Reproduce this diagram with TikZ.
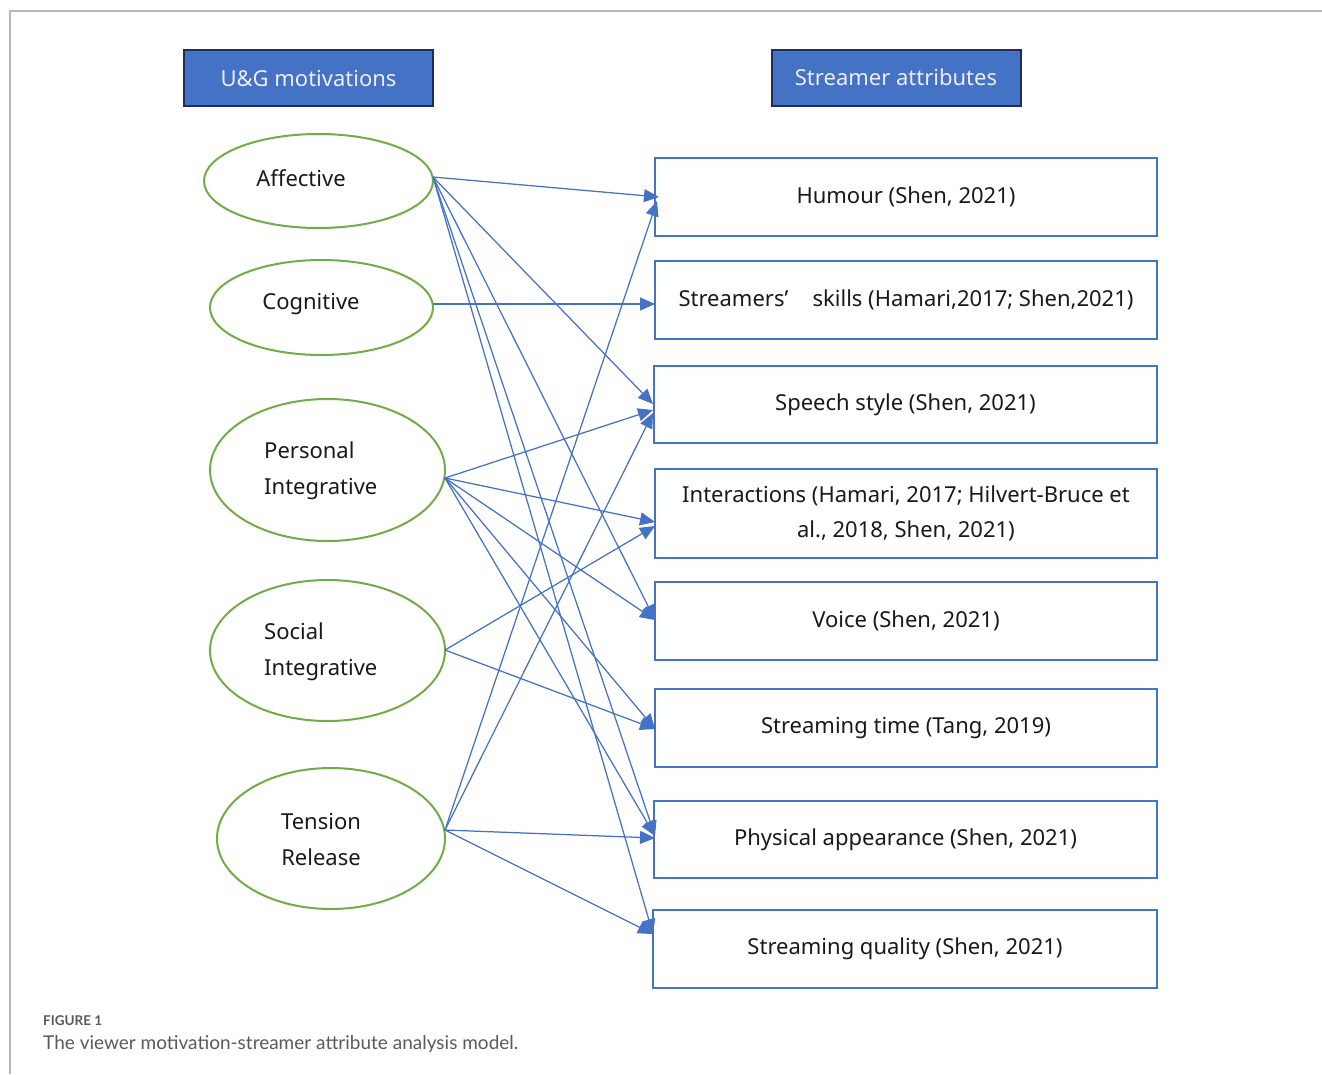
\documentclass[tikz,border=0pt]{standalone}
\usepackage{fontspec}
\setmainfont{Noto Sans}
\newfontfamily\capfont{Lato}
\usetikzlibrary{arrows.meta,shapes.geometric}
\definecolor{lblue}{HTML}{4472C4}
\definecolor{lgreen}{HTML}{70AD47}
\definecolor{navy}{HTML}{1F2D5A}
\definecolor{capgray}{HTML}{5A5A5A}
\tikzset{
  hdr/.style={draw=navy, line width=2pt, fill=lblue, text=white!93!blue, font=\fontsize{22}{26}\selectfont, minimum width=249pt, minimum height=56pt, inner sep=0pt},
  oval/.style={draw=lgreen, line width=2pt, ellipse, inner sep=0pt},
  otext/.style={font=\fontsize{22}{36}\selectfont, text=black!90, inner sep=0pt, align=left},
  attr/.style={draw=lblue, line width=2pt, fill=white, minimum width=502pt, minimum height=78pt, inner sep=0pt, font=\fontsize{22}{35}\selectfont, text=black!90, align=center},
  arr/.style={draw=lblue, line width=1.25pt, -{Triangle[length=15pt,width=13pt]}},
  frame/.style={draw=black!28, line width=1.5pt}
}
\begin{document}
\begin{tikzpicture}[x=1pt,y=-1pt]
\useasboundingbox (0,0) rectangle (1322,1074);
% frame
\coordinate (f1) at (1322,11);
\coordinate (f2) at (10,11);
\coordinate (f3) at (10,1074);
\draw[frame] (f1) -- (f2) -- (f3);

% headers
\node[hdr] (h1) at (308.5,78) {U\&G motivations};
\node[hdr] (h2) at (896,77.5) {Streamer attributes};

% ellipses
\node[oval, minimum width=229pt, minimum height=94pt] (aff) at (318.5,181) {};
\node[oval, minimum width=223pt, minimum height=95pt] (cog) at (321.5,307.5) {};
\node[oval, minimum width=235pt, minimum height=142pt] (per) at (327.5,470) {};
\node[oval, minimum width=235pt, minimum height=141pt] (soc) at (327.5,650.5) {};
\node[oval, minimum width=228pt, minimum height=141pt] (ten) at (331,838.5) {};

\node[otext, anchor=center] (affT) at (301,178) {Affective};
\node[otext, anchor=center] (cogT) at (311,304) {Cognitive};
\node[otext, anchor=west] (perT) at (264,471) {Personal\\Integrative};
\node[otext, anchor=west] (socT) at (264,651.5) {Social\\Integrative};
\node[otext, align=center, anchor=center] (tenT) at (321,839) {Tension\\Release};

% attribute boxes
\node[attr] (hum) at (906,197) {Humour (Shen, 2021)};
\node[attr] (ski) at (906,300) {Streamers’\hspace{1.1em}skills (Hamari,2017; Shen,2021)};
\node[attr, minimum width=503pt, minimum height=77pt] (spe) at (905.5,404.5) {Speech style (Shen, 2021)};
\node[attr, minimum height=89pt] (int) at (906,513) {Interactions (Hamari, 2017; Hilvert-Bruce et\\al., 2018, Shen, 2021)};
\node[attr] (voi) at (906,621) {Voice (Shen, 2021)};
\node[attr] (tim) at (906,728) {Streaming time (Tang, 2019)};
\node[attr, minimum width=503pt, minimum height=77pt] (phy) at (905.5,839.5) {Physical appearance (Shen, 2021)};
\node[attr, minimum width=504pt] (qua) at (905,949) {Streaming quality (Shen, 2021)};

% source points
\coordinate (sA) at (433,177);
\coordinate (sC) at (433,304);
\coordinate (sP) at (445,478);
\coordinate (sS) at (445,650);
\coordinate (sT) at (445,830);

% target points
\coordinate (tHum1) at (659,197);
\coordinate (tHum2) at (657,201);
\coordinate (tSki) at (655,304);
\coordinate (tSpe1) at (653,404);
\coordinate (tSpe2) at (653,410);
\coordinate (tSpe3) at (653,413);
\coordinate (tInt1) at (655,522);
\coordinate (tInt2) at (655,526);
\coordinate (tVoi1) at (655,620);
\coordinate (tVoi2) at (655,620);
\coordinate (tTim) at (655,729);
\coordinate (tPhy1) at (655,836);
\coordinate (tPhy2) at (655,838);
\coordinate (tQua) at (653,934);

% connectors
\draw[arr] (sA) -- (tHum1);
\draw[arr] (sA) -- (tSpe1);
\draw[arr] (sA) -- (tVoi1);
\draw[arr] (sA) -- (tPhy1);
\draw[arr] (sA) -- (tQua);
\draw[arr] (sC) -- (tSki);
\draw[arr] (sP) -- (tSpe2);
\draw[arr] (sP) -- (tInt1);
\draw[arr] (sP) -- (tVoi2);
\draw[arr] (sP) -- (tTim);
\draw[arr] (sP) -- (tPhy1);
\draw[arr] (sS) -- (tInt2);
\draw[arr] (sS) -- (tTim);
\draw[arr] (sT) -- (tHum2);
\draw[arr] (sT) -- (tSpe3);
\draw[arr] (sT) -- (tPhy2);
\draw[arr] (sT) -- (tQua);

% caption
\node[anchor=west, inner sep=0pt, font=\capfont\bfseries\fontsize{13.5}{15}\selectfont, text=capgray] (cap1) at (43,1021) {FIGURE 1};
\node[anchor=west, inner sep=0pt, font=\capfont\fontsize{19}{22}\selectfont, text=capgray] (cap2) at (43,1044) {The viewer motivation-streamer attribute analysis model.};
\end{tikzpicture}
\end{document}
